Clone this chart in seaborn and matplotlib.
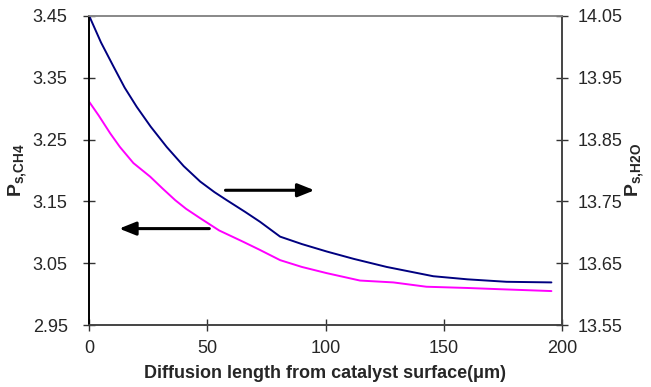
import numpy as np
import pandas as pd
import matplotlib
matplotlib.use("Agg")
import matplotlib.pyplot as plt
import seaborn as sns

# diffusion length (um) and surface partial pressures
x_ch4 = [0, 4, 8.9, 13, 18.7, 25.8, 31, 36.4, 41, 46.9, 55, 65, 72, 80.8, 90, 100.5, 114.6, 128.7, 142.7, 160, 173.8, 195.6]
p_ch4 = [3.311, 3.289, 3.260, 3.238, 3.212, 3.190, 3.171, 3.152, 3.138, 3.123, 3.103, 3.085, 3.072, 3.055,
         3.044, 3.034, 3.022, 3.019, 3.012, 3.010, 3.008, 3.005]

x_h2o = [0, 5, 10.3, 15, 20.1, 26, 32.8, 40, 47, 53, 58.2, 66, 72.3, 80.8, 90, 100.5, 112, 125.9, 145.6, 160, 176.6, 195.6]
p_h2o = [14.05, 14.007, 13.968, 13.934, 13.903, 13.871, 13.838, 13.807, 13.782, 13.765, 13.752, 13.733, 13.717,
         13.693, 13.681, 13.669, 13.657, 13.644, 13.629, 13.624, 13.620, 13.619]

sns.set_style("white")
plt.rcParams["font.family"] = ["Liberation Sans", "DejaVu Sans"]
plt.rcParams["mathtext.fontset"] = "custom"
plt.rcParams["mathtext.rm"] = "Liberation Sans"
plt.rcParams["mathtext.bf"] = "Liberation Sans:bold"

fig, ax = plt.subplots(figsize=(6.51, 3.87), dpi=100)
fig.subplots_adjust(left=0.137, right=0.863, top=0.959, bottom=0.160)
ax2 = ax.twinx()

df1 = pd.DataFrame({"x": x_ch4, "p": p_ch4})
df2 = pd.DataFrame({"x": x_h2o, "p": p_h2o})
sns.lineplot(data=df1, x="x", y="p", ax=ax, color="#ff00ff", lw=1.4)
sns.lineplot(data=df2, x="x", y="p", ax=ax2, color="#000080", lw=1.4)

ax.set_xlim(0, 200)
ax.set_ylim(2.95, 3.45)
ax2.set_ylim(13.55, 14.05)
ax.set_xticks([0, 50, 100, 150, 200])
ax.set_yticks(np.arange(2.95, 3.46, 0.1))
ax2.set_yticks(np.arange(13.55, 14.06, 0.1))
ax.set_yticklabels(["2.95", "3.05", "3.15", "3.25", "3.35", "3.45"])
ax2.set_yticklabels(["13.55", "13.65", "13.75", "13.85", "13.95", "14.05"])

ax.tick_params(axis="x", bottom=True, direction="inout", length=9, width=1, labelsize=13,
               color="#333333", pad=6)
ax.tick_params(axis="y", left=True, direction="inout", length=9, width=1, labelsize=13,
               color="#333333", pad=11)
ax2.tick_params(axis="y", right=True, direction="inout", length=9, width=1, labelsize=13,
                color="#333333", pad=7)

ax.set_xlabel("Diffusion length from catalyst surface(μm)", fontsize=13, fontweight="bold", labelpad=6)
ax.set_ylabel(r"$\mathbf{P}_{\mathbf{s{,}CH4}}$", fontsize=14, labelpad=2)
ax2.set_ylabel(r"$\mathbf{P}_{\mathbf{s{,}H2O}}$", fontsize=14, labelpad=1)

for a in (ax, ax2):
    for s in a.spines.values():
        s.set_linewidth(1.2)
    a.spines["top"].set_color("#888888")
    a.spines["left"].set_color("black")
    a.spines["right"].set_color("#444444")
    a.spines["bottom"].set_color("#444444")

# direction arrows
ax.annotate("", xy=(96.5, 3.168), xytext=(56.5, 3.168),
            arrowprops=dict(arrowstyle="-|>,head_length=1.0,head_width=0.4", color="black", lw=2.2))
ax.annotate("", xy=(11.5, 3.106), xytext=(52, 3.106),
            arrowprops=dict(arrowstyle="-|>,head_length=1.0,head_width=0.4", color="black", lw=2.2))

fig.savefig("out.png", dpi=100)
